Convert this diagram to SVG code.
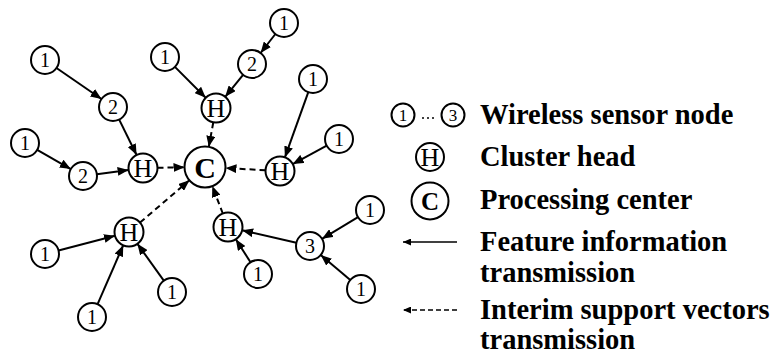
<svg xmlns="http://www.w3.org/2000/svg" width="776" height="356" viewBox="0 0 776 356">
  <style>
    .node circle { fill: #fff; stroke: #000; stroke-width: 2; }
    .num { font-family: "Liberation Serif", "Times New Roman", serif; font-size: 20px; text-anchor: middle; fill: #000; }
    .head { font-family: "Liberation Serif", "Times New Roman", serif; font-size: 26px; text-anchor: middle; fill: #000; }
    .center { font-family: "Liberation Serif", "Times New Roman", serif; font-size: 30px; font-weight: bold; text-anchor: middle; fill: #000; }
    .feat { fill: none; stroke: #000; stroke-width: 2; marker-end: url(#arrow); }
    .svm { fill: none; stroke: #000; stroke-width: 2; stroke-dasharray: 6 4; marker-end: url(#arrow); }
    .key { font-family: "Liberation Serif", "Times New Roman", serif; font-size: 28.5px; font-weight: bold; fill: #000; }
    .keyline { fill: none; stroke: #000; stroke-width: 1.6; marker-end: url(#arrowSmall); }
  </style>
  <defs>
    <marker id="arrow" markerUnits="userSpaceOnUse" markerWidth="11" markerHeight="9" refX="11" refY="4.5" orient="auto">
      <path d="M0,0 L11,4.5 L0,9 z" fill="#000"/>
    </marker>
    <marker id="arrowSmall" markerUnits="userSpaceOnUse" markerWidth="8" markerHeight="7" refX="8" refY="3.5" orient="auto">
      <path d="M0,0 L8,3.5 L0,7 z" fill="#000"/>
    </marker>
  </defs>
  <rect width="776" height="356" fill="#fff"/>

  <!-- connectors -->
  <g id="connectors">
    <!-- feature information (solid) -->
    <line class="feat" x1="56.5" y1="68.0" x2="101.5" y2="99.0"/>
    <line class="feat" x1="119.2" y1="119.6" x2="136.6" y2="155.0"/>
    <line class="feat" x1="37.2" y1="149.9" x2="70.8" y2="169.1"/>
    <line class="feat" x1="96.9" y1="174.2" x2="128.6" y2="169.9"/>
    <line class="feat" x1="174.9" y1="66.9" x2="205.7" y2="97.7"/>
    <line class="feat" x1="275.4" y1="34.0" x2="260.6" y2="53.0"/>
    <line class="feat" x1="243.1" y1="74.8" x2="225.2" y2="96.8"/>
    <line class="feat" x1="308.3" y1="92.2" x2="284.9" y2="157.4"/>
    <line class="feat" x1="326.7" y1="145.7" x2="292.7" y2="164.1"/>
    <line class="feat" x1="58.5" y1="250.5" x2="115.0" y2="235.7"/>
    <line class="feat" x1="97.6" y1="304.2" x2="123.2" y2="245.3"/>
    <line class="feat" x1="163.8" y1="280.6" x2="137.4" y2="243.8"/>
    <line class="feat" x1="358.0" y1="217.2" x2="322.0" y2="238.8"/>
    <line class="feat" x1="350.3" y1="280.0" x2="320.7" y2="255.0"/>
    <line class="feat" x1="296.4" y1="242.8" x2="242.1" y2="230.3"/>
    <line class="feat" x1="250.5" y1="262.2" x2="235.8" y2="239.2"/>
    <!-- interim support vectors (dashed) -->
    <line class="svm" x1="157.5" y1="167.8" x2="184.5" y2="167.3"/>
    <line class="svm" x1="213.3" y1="122.3" x2="208.8" y2="146.8"/>
    <line class="svm" x1="265.5" y1="170.2" x2="225.5" y2="168.1"/>
    <line class="svm" x1="140.0" y1="222.6" x2="189.4" y2="180.3"/>
    <line class="svm" x1="222.8" y1="213.5" x2="212.3" y2="186.1"/>
  </g>

  <!-- processing center -->
  <g id="center" class="node"><circle cx="205" cy="167" r="20.5"/><text class="center" x="205" y="177.5">C</text></g>

  <!-- cluster heads -->
  <g id="head-west" class="node"><circle cx="143" cy="168" r="14.5"/><text class="head" x="143" y="176.6">H</text></g>
  <g id="head-north" class="node"><circle cx="216" cy="108" r="14.5"/><text class="head" x="216" y="116.6">H</text></g>
  <g id="head-east" class="node"><circle cx="280" cy="171" r="14.5"/><text class="head" x="280" y="179.6">H</text></g>
  <g id="head-southwest" class="node"><circle cx="129" cy="232" r="14.5"/><text class="head" x="129" y="240.6">H</text></g>
  <g id="head-south" class="node"><circle cx="228" cy="227" r="14.5"/><text class="head" x="228" y="235.6">H</text></g>

  <!-- sensor nodes -->
  <g id="s-a1" class="node"><circle cx="45" cy="60" r="14"/><text class="num" x="45" y="67">1</text></g>
  <g id="s-a2" class="node"><circle cx="113" cy="107" r="14"/><text class="num" x="113" y="114">2</text></g>
  <g id="s-b1" class="node"><circle cx="25" cy="143" r="14"/><text class="num" x="25" y="150">1</text></g>
  <g id="s-b2" class="node"><circle cx="83" cy="176" r="14"/><text class="num" x="83" y="183">2</text></g>
  <g id="s-d1" class="node"><circle cx="165" cy="57" r="14"/><text class="num" x="165" y="64">1</text></g>
  <g id="s-e1" class="node"><circle cx="284" cy="23" r="14"/><text class="num" x="284" y="30">1</text></g>
  <g id="s-e2" class="node"><circle cx="252" cy="64" r="14"/><text class="num" x="252" y="71">2</text></g>
  <g id="s-f1" class="node"><circle cx="313" cy="79" r="14"/><text class="num" x="313" y="86">1</text></g>
  <g id="s-f2" class="node"><circle cx="339" cy="139" r="14"/><text class="num" x="339" y="146">1</text></g>
  <g id="s-g1" class="node"><circle cx="45" cy="254" r="14"/><text class="num" x="45" y="261">1</text></g>
  <g id="s-g2" class="node"><circle cx="92" cy="317" r="14"/><text class="num" x="92" y="324">1</text></g>
  <g id="s-g3" class="node"><circle cx="172" cy="292" r="14"/><text class="num" x="172" y="299">1</text></g>
  <g id="s-i3" class="node"><circle cx="310" cy="246" r="14"/><text class="num" x="310" y="253">3</text></g>
  <g id="s-i1" class="node"><circle cx="370" cy="210" r="14"/><text class="num" x="370" y="217">1</text></g>
  <g id="s-i2" class="node"><circle cx="361" cy="289" r="14"/><text class="num" x="361" y="296">1</text></g>
  <g id="s-j1" class="node"><circle cx="258" cy="274" r="14"/><text class="num" x="258" y="281">1</text></g>

  <!-- legend -->
  <g id="legend">
    <g class="node">
      <circle cx="403" cy="115" r="11.5"/><text class="num" x="403" y="121" style="font-size:17px">1</text>
      <circle cx="453" cy="115" r="11.5"/><text class="num" x="453" y="121" style="font-size:17px">3</text>
    </g>
    <circle cx="423" cy="118" r="1" fill="#000"/>
    <circle cx="428" cy="118" r="1" fill="#000"/>
    <circle cx="433" cy="118" r="1" fill="#000"/>
    <text class="key" x="480" y="124">Wireless sensor node</text>

    <g class="node"><circle cx="430" cy="157" r="14"/><text class="head" x="430" y="165.5">H</text></g>
    <text class="key" x="480" y="166">Cluster head</text>

    <g class="node"><circle cx="430" cy="201" r="18.5"/><text class="center" x="430" y="210" style="font-size:25px">C</text></g>
    <text class="key" x="480" y="209">Processing center</text>

    <line class="keyline" x1="457" y1="242" x2="403" y2="242"/>
    <text class="key" x="480" y="251">Feature information</text>
    <text class="key" x="480" y="282">transmission</text>

    <line class="keyline" x1="457" y1="310" x2="403" y2="310" style="stroke-dasharray:5 3"/>
    <text class="key" x="480" y="319">Interim support vectors</text>
    <text class="key" x="480" y="349">transmission</text>
  </g>
</svg>
